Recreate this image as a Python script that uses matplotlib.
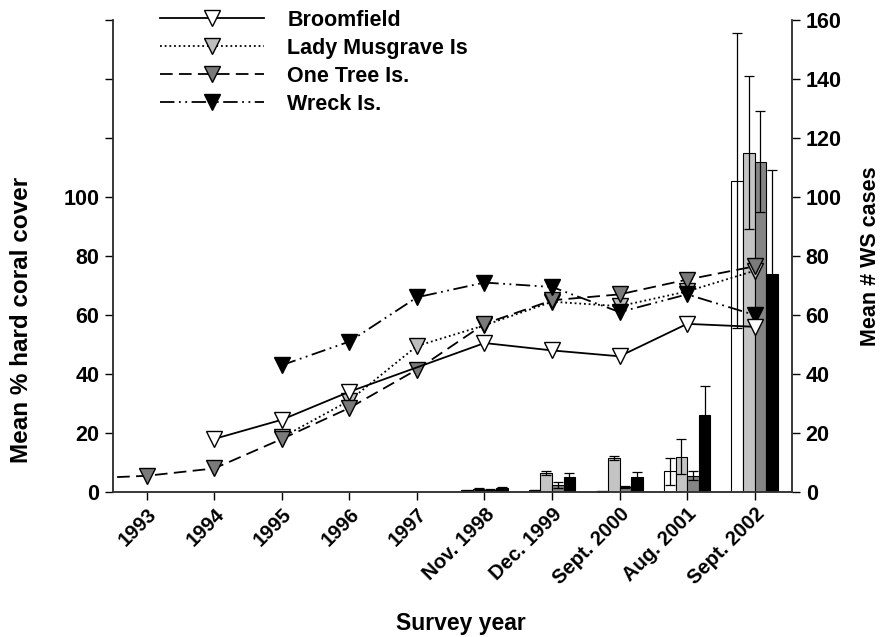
import numpy as np
import matplotlib
matplotlib.use("Agg")
import matplotlib.pyplot as plt

plt.rcParams["font.family"] = ["Liberation Sans", "DejaVu Sans"]
plt.rcParams["font.weight"] = "bold"
plt.rcParams["axes.labelweight"] = "bold"
plt.rcParams["font.size"] = 15

# survey labels (index 0 = 1993); the cover series also carry a 1992 value
survey_labels = ["1993", "1994", "1995", "1996", "1997", "Nov. 1998",
                 "Dec. 1999", "Sept. 2000", "Aug. 2001", "Sept. 2002"]
cover_years = [1992, 1993, 1994, 1995, 1996, 1997, 1998, 1999, 2000, 2001, 2002]

# mean % hard coral cover
cover_broomfield = [np.nan, np.nan, 18, 24.5, 34, np.nan, 50.5, 48, 46, 57, 56]
cover_lady_musgrave = [np.nan, np.nan, np.nan, 18.5, 31, 49.5, 56.5, 64.5, 63, 68, 75]
cover_one_tree = [4.5, 5.5, 8, 18, 28.5, 41.5, 57, 65, 67, 72, 76.5]
cover_wreck = [np.nan, np.nan, np.nan, 43, 51, 66, 71, 69.5, 61, 67, 60]

# mean number of white syndrome cases (Nov. 1998 .. Sept. 2002)
ws_labels = ["Nov. 1998", "Dec. 1999", "Sept. 2000", "Aug. 2001", "Sept. 2002"]
ws_broomfield = [0.6, 0.6, 0.3, 7, 105.5]
ws_broomfield_err = [0.2, 0.2, 0.2, 4.5, 50]
ws_lady_musgrave = [1.0, 6.5, 11.5, 12, 115]
ws_lady_musgrave_err = [0.3, 0.7, 0.8, 6, 26]
ws_one_tree = [0.8, 2.5, 1.6, 5.5, 112]
ws_one_tree_err = [0.2, 1.0, 0.3, 1.5, 17]
ws_wreck = [1.4, 5, 5, 26, 74]
ws_wreck_err = [0.3, 1.5, 1.8, 10, 35]

fig = plt.figure(figsize=(8.85, 6.37), dpi=100)
ax = fig.add_axes([0.1277, 0.2276, 0.767, 0.741])
ax2 = ax.twinx()

# bars go on the right axis, underneath the line plot
ax2.set_zorder(1)
ax.set_zorder(2)
ax.patch.set_visible(False)

x_pos = {lab: i for i, lab in enumerate(survey_labels)}
bar_x = np.array([x_pos[lab] for lab in ws_labels], dtype=float)
width = 0.172
bar_sets = [
    (ws_broomfield, ws_broomfield_err, "white"),
    (ws_lady_musgrave, ws_lady_musgrave_err, "#c4c4c4"),
    (ws_one_tree, ws_one_tree_err, "#858585"),
    (ws_wreck, ws_wreck_err, "black"),
]
for k, (vals, errs, col) in enumerate(bar_sets):
    ax2.bar(bar_x + (k - 1.5) * width, vals, width, color=col,
            edgecolor="black", linewidth=0.8, yerr=errs,
            error_kw=dict(ecolor="black", elinewidth=0.9, capsize=3.5,
                          capthick=0.9))

# coral cover lines
cx = np.array(cover_years) - 1993
series = [
    ("Lady Musgrave Is", cover_lady_musgrave, (0, (1, 1.6)), "#bdbdbd", 3),
    ("One Tree Is.", cover_one_tree, (0, (7, 3.5)), "#7a7a7a", 4),
    ("Wreck Is.", cover_wreck, (0, (8, 2.5, 1, 2.5, 1, 2.5)), "black", 5),
    ("Broomfield", cover_broomfield, "-", "white", 6),
]
handles = {}
for name, vals, ls, fc, z in series:
    v = np.array(vals, dtype=float)
    ok = ~np.isnan(v)
    ln, = ax.plot(cx[ok], v[ok], linestyle=ls, color="black", linewidth=1.3,
                  marker="v", markersize=12, markerfacecolor=fc,
                  markeredgecolor="black", markeredgewidth=1.0, zorder=z)
    handles[name] = ln

ax.set_xlim(-0.5, 9.55)
ax.set_ylim(0, 160)
ax2.set_ylim(0, 160)

ax.set_xticks(range(len(survey_labels)))
ax.set_xticklabels(survey_labels, rotation=45, ha="right", va="top",
                   rotation_mode="anchor", fontsize=14.5)
ax.set_yticks(np.arange(0, 161, 20))
ax.set_yticklabels([str(t) if t <= 100 else "" for t in range(0, 161, 20)],
                   fontsize=15.5)
ax2.set_yticks(np.arange(0, 161, 20))
ax2.set_yticklabels([str(t) for t in range(0, 161, 20)], fontsize=15.5)

for a in (ax, ax2):
    a.spines["top"].set_visible(False)
    a.tick_params(direction="out", length=6, width=1, pad=4)
    for s in a.spines.values():
        s.set_linewidth(1.1)
        s.set_color("#333333")
ax.tick_params(axis="x", pad=3)

ax.set_xlabel("Survey year", fontsize=16.5)
ax.xaxis.set_label_coords(0.513, -0.254)
ax.set_ylabel("Mean % hard coral cover", fontsize=17.5)
ax.yaxis.set_label_coords(-0.118, 0.364)
ax2.set_ylabel("Mean # WS cases", fontsize=15.5)
ax2.yaxis.set_label_coords(1.101, 0.5)

order = ["Broomfield", "Lady Musgrave Is", "One Tree Is.", "Wreck Is."]
ax.legend([handles[n] for n in order], order, loc="upper left",
          bbox_to_anchor=(0.054, 1.045), frameon=False, handlelength=4.8,
          labelspacing=0.33, handletextpad=1.1, borderpad=0, fontsize=15.5)

fig.savefig("out.png", dpi=100)
